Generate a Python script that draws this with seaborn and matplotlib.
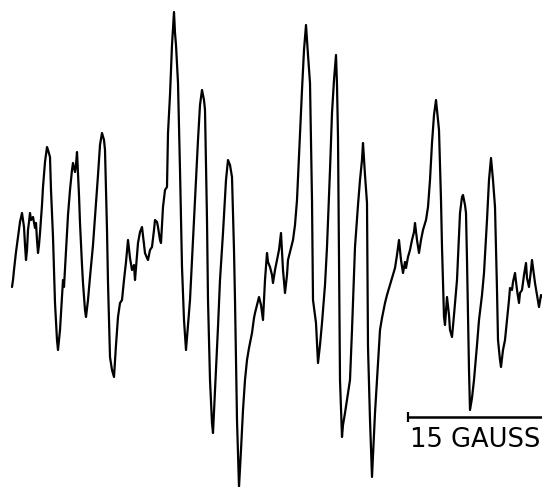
import matplotlib
matplotlib.use("Agg")
import matplotlib.pyplot as plt
import seaborn as sns
import pandas as pd

# trace as (field, pen deflection) pairs, chart px, down = larger
trace = [
    (12, 287), (13, 280), (14, 270), (16, 252), (18, 237), (20, 222), (22, 213), (24, 227),
    (25, 245), (26, 260), (27, 250), (28, 230), (29, 222), (30, 213), (31, 220), (33, 217),
    (35, 228), (36, 223), (37, 240), (38, 253), (39, 245), (40, 233), (42, 205), (43, 187),
    (45, 162), (47, 147), (48, 150), (50, 157), (51, 190), (53, 237), (55, 303), (57, 340),
    (58, 350), (60, 330), (61, 313), (62, 295), (63, 280), (64, 287), (66, 250), (68, 215),
    (70, 190), (72, 170), (73, 163), (75, 172), (76, 165), (77, 152), (79, 195), (80, 223),
    (82, 265), (83, 283), (85, 310), (86, 317), (88, 300), (90, 277), (93, 245), (95, 217),
    (98, 175), (100, 145), (102, 133), (104, 140), (105, 150), (107, 230), (108, 283),
    (110, 357), (112, 370), (114, 377), (116, 345), (118, 317), (120, 303), (122, 300),
    (124, 280), (126, 262), (128, 240), (130, 258), (132, 270), (134, 265), (135, 280),
    (137, 255), (138, 243), (140, 232), (142, 227), (144, 245), (145, 253), (147, 258),
    (148, 260), (150, 250), (152, 247), (154, 230), (155, 220), (157, 222), (158, 227),
    (160, 240), (161, 243), (163, 207), (165, 190), (167, 187), (168, 133), (170, 95),
    (172, 45), (174, 12), (175, 33), (176, 45), (178, 83), (180, 170), (182, 267),
    (184, 320), (186, 350), (188, 325), (190, 300), (193, 240), (195, 200), (198, 140),
    (200, 105), (202, 90), (204, 100), (205, 110), (207, 220), (208, 300), (210, 380),
    (212, 423), (213, 433), (215, 390), (218, 327), (220, 280), (223, 233), (226, 180),
    (228, 160), (230, 165), (232, 177), (234, 250), (235, 300), (237, 420), (239, 487),
    (241, 450), (243, 410), (245, 380), (247, 360), (249, 348), (252, 333), (254, 318),
    (255, 313), (257, 305), (259, 297), (261, 305), (263, 320), (265, 280), (267, 253),
    (268, 262), (270, 267), (272, 275), (273, 283), (275, 270), (277, 260), (279, 250),
    (281, 233), (283, 270), (285, 293), (287, 275), (288, 260), (291, 248), (293, 240),
    (295, 225), (297, 200), (300, 133), (302, 90), (304, 50), (306, 25), (308, 55),
    (310, 83), (312, 200), (313, 300), (315, 315), (316, 323), (318, 363), (320, 345),
    (322, 323), (325, 285), (327, 247), (330, 170), (332, 113), (334, 80), (336, 55),
    (337, 85), (338, 137), (339, 260), (340, 380), (342, 437), (343, 425), (345, 413),
    (347, 400), (350, 380), (352, 330), (355, 247), (358, 205), (360, 180), (362, 160),
    (363, 143), (365, 175), (367, 203), (368, 347), (370, 420), (372, 477), (373, 455),
    (375, 413), (377, 380), (380, 330), (382, 318), (385, 303), (387, 295), (390, 285),
    (392, 278), (395, 268), (397, 255), (399, 240), (401, 260), (403, 273), (405, 262),
    (406, 268), (408, 257), (410, 250), (412, 240), (414, 232), (415, 223), (417, 240),
    (419, 253), (421, 240), (423, 230), (426, 220), (428, 207), (430, 180), (432, 143),
    (434, 115), (436, 100), (437, 110), (439, 130), (441, 200), (442, 247), (444, 317),
    (445, 325), (447, 297), (449, 315), (450, 330), (452, 337), (454, 315), (457, 280),
    (459, 235), (460, 213), (462, 197), (463, 195), (465, 205), (466, 213), (467, 260),
    (468, 313), (469, 370), (470, 410), (472, 398), (474, 380), (477, 345), (479, 320),
    (482, 295), (484, 273), (487, 220), (489, 180), (491, 158), (493, 180), (495, 207),
    (497, 290), (498, 340), (500, 360), (501, 367), (503, 350), (505, 340), (507, 320),
    (509, 300), (510, 288), (512, 290), (513, 282), (515, 273), (517, 290), (519, 303),
    (520, 293), (522, 290), (524, 275), (526, 263), (527, 278), (529, 287), (531, 270),
    (532, 260), (534, 275), (535, 283), (537, 295), (539, 307), (541, 295), (542, 297),
]
field = [p[0] for p in trace]
signal = [p[1] for p in trace]

# 15 gauss scale bar and its label
bar_x = [408, 542]
bar_y = [417, 417]
bar_label = "15 GAUSS"

sns.set_style("white")
fig = plt.figure(figsize=(5.42, 4.87), dpi=100)
ax = fig.add_axes([0, 0, 1, 1])

df = pd.DataFrame({"field": field, "signal": signal})
sns.lineplot(data=df, x="field", y="signal", sort=False, estimator=None,
             color="black", linewidth=1.6, ax=ax)

sns.lineplot(x=bar_x, y=bar_y, color="black", linewidth=1.8, ax=ax)
ax.plot([bar_x[0]], [bar_y[0]], marker="|", markersize=7, color="black", mew=1.6)
ax.text(475, 440, bar_label, ha="center", va="center", fontsize=18.5,
        family=["DejaVu Sans"], color="black")

ax.set_xlim(0, 542)
ax.set_ylim(487, 0)
ax.set_axis_off()
fig.savefig("out.png", dpi=100, facecolor="white")
